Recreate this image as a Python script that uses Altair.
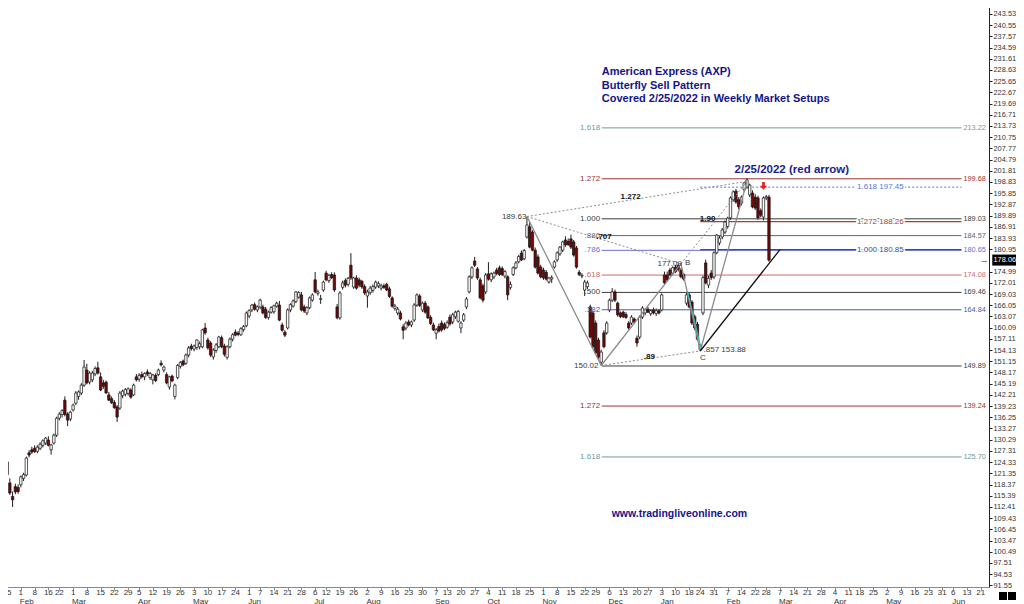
import altair as alt
import pandas as pd

# ---------------- daily candles (trading-day order, from 25 Jan 2021) ----------------
OPENS = [
    124.4, 118.8, 115.2, 117.8, 117.6, 118.3, 120.0, 120.9, 126.8, 127.6,
    128.0, 127.2, 128.0, 128.8, 129.4, 130.2, 127.6, 129.4, 131.5, 136.0,
    137.0, 140.8, 137.1, 135.8, 138.2, 140.0, 141.8, 142.7, 144.8, 148.8,
    145.6, 146.2, 147.8, 149.4, 147.0, 145.4, 145.6, 142.2, 141.2, 140.2,
    139.0, 138.7, 142.0, 142.4, 142.6, 143.5, 142.2, 147.0, 146.4, 147.6,
    147.0, 148.3, 146.8, 146.2, 147.4, 147.6, 150.6, 148.8, 147.6, 144.3,
    147.2, 141.8, 146.8, 149.8, 151.2, 150.6, 152.8, 155.2, 154.4, 154.8,
    155.0, 155.0, 160.0, 156.8, 156.0, 152.3, 154.0, 155.0, 157.4, 155.2,
    152.2, 155.0, 157.0, 158.9, 158.6, 158.2, 159.6, 160.6, 163.2, 164.8,
    166.2, 164.8, 165.6, 165.6, 165.0, 162.8, 164.2, 164.3, 165.8, 166.1,
    160.8, 158.9, 160.0, 164.8, 165.8, 167.0, 168.2, 168.8, 165.6, 164.0,
    165.4, 167.4, 172.8, 169.2, 167.6, 170.1, 174.6, 172.6, 174.2, 174.1,
    165.6, 162.7, 170.8, 172.6, 171.6, 176.7, 170.9, 173.3, 172.8, 172.4,
    171.0, 168.5, 169.4, 170.0, 170.9, 171.2, 170.6, 171.2, 171.6, 170.4,
    168.0, 165.2, 164.0, 164.0, 160.3, 160.0, 161.6, 160.8, 162.1, 166.1,
    168.5, 164.8, 166.6, 165.6, 162.8, 160.8, 158.6, 160.4, 161.3, 160.9,
    160.2, 162.9, 161.6, 163.0, 161.8, 160.0, 162.1, 165.6, 169.6, 173.6,
    177.8, 175.7, 172.8, 171.2, 169.6, 174.4, 172.8, 173.6, 175.4, 176.0,
    175.8, 173.8, 173.6, 170.8, 174.2, 176.0, 177.6, 179.9, 178.4, 184.2,
    186.9, 185.5, 180.7, 178.9, 176.2, 175.4, 174.8, 172.2, 173.0, 176.2,
    178.1, 179.7, 180.7, 183.4, 183.0, 183.7, 182.9, 181.3, 174.8, 173.8,
    170.1, 171.0, 165.6, 164.0, 161.3, 156.8, 150.9, 158.7, 158.7, 164.8,
    167.4, 169.6, 166.6, 164.0, 164.2, 163.6, 161.3, 161.3, 162.4, 157.3,
    157.6, 162.9, 164.0, 165.0, 163.8, 164.8, 163.8, 164.6, 164.8, 174.1,
    174.1, 175.4, 174.6, 176.2, 176.6, 175.4, 174.2, 166.6, 168.8, 166.9,
    163.0, 161.0, 154.2, 164.0, 177.3, 171.4, 174.6, 173.6, 180.0, 182.6,
    184.2, 185.5, 187.0, 189.3, 194.1, 196.4, 194.1, 193.2, 196.7, 197.5,
    195.4, 195.9, 194.8, 194.6, 191.2, 189.5, 194.6, 194.8,
]
HIGHS = [
    126.2, 120.0, 116.5, 118.6, 118.4, 120.8, 121.5, 125.8, 127.5, 128.4,
    128.8, 128.8, 129.6, 130.4, 131.0, 131.2, 129.2, 131.9, 136.4, 137.6,
    138.4, 141.8, 137.6, 138.0, 139.9, 143.2, 143.4, 145.3, 151.5, 150.5,
    148.5, 148.6, 149.8, 151.0, 148.2, 146.2, 146.0, 143.0, 141.8, 140.8,
    139.5, 143.2, 143.6, 144.0, 144.2, 144.0, 145.2, 147.8, 148.0, 148.4,
    148.2, 149.0, 148.3, 147.8, 147.9, 149.2, 151.4, 150.0, 148.2, 147.3,
    147.6, 145.2, 150.4, 151.2, 151.6, 153.2, 155.2, 155.8, 155.6, 157.0,
    156.4, 159.8, 161.3, 157.4, 156.5, 154.6, 156.0, 157.9, 158.0, 155.8,
    155.4, 157.5, 158.6, 159.6, 159.2, 160.2, 160.8, 164.4, 165.0, 166.4,
    166.8, 166.0, 167.8, 166.2, 165.6, 164.6, 165.8, 166.2, 167.0, 167.2,
    161.4, 159.4, 165.2, 166.6, 167.6, 169.8, 169.8, 169.6, 166.2, 165.8,
    168.4, 169.2, 174.9, 170.2, 168.8, 172.6, 175.2, 174.4, 174.8, 174.8,
    166.4, 169.8, 172.6, 173.2, 173.6, 179.9, 173.6, 174.0, 173.4, 172.8,
    171.6, 170.2, 171.2, 171.6, 172.6, 172.4, 171.8, 171.8, 172.0, 171.0,
    168.4, 166.4, 165.6, 164.6, 161.0, 161.8, 162.2, 162.0, 166.6, 169.2,
    169.0, 167.0, 167.2, 166.0, 163.4, 161.4, 160.0, 161.2, 162.0, 161.5,
    162.0, 163.6, 164.0, 164.6, 164.8, 161.8, 164.0, 168.2, 174.0, 176.4,
    178.9, 176.2, 173.4, 171.8, 174.6, 177.5, 174.8, 175.0, 176.0, 176.6,
    176.4, 175.4, 174.0, 172.4, 176.4, 177.8, 179.4, 180.6, 181.0, 189.63,
    188.2, 186.0, 181.4, 179.6, 176.8, 176.0, 175.4, 173.6, 174.0, 178.0,
    180.4, 181.8, 183.2, 184.4, 183.8, 184.8, 183.4, 181.8, 175.4, 174.6,
    172.8, 172.6, 166.2, 164.6, 162.0, 157.4, 154.2, 159.4, 161.8, 167.8,
    170.6, 170.2, 167.0, 164.4, 164.6, 164.2, 161.8, 163.4, 162.8, 158.0,
    163.4, 165.8, 165.2, 165.6, 165.0, 165.4, 165.2, 165.0, 169.2, 175.0,
    175.0, 176.0, 176.4, 176.8, 177.09, 176.0, 174.6, 169.6, 169.4, 167.4,
    163.6, 161.6, 155.8, 174.0, 178.2, 174.0, 175.4, 180.4, 185.0, 184.6,
    186.6, 188.6, 189.6, 195.0, 196.6, 197.0, 194.8, 195.2, 198.8, 199.9,
    198.4, 196.6, 195.6, 195.2, 191.8, 195.0, 195.4, 195.4,
]
LOWS = [
    120.5, 115.6, 112.4, 115.8, 115.9, 117.6, 119.3, 120.5, 125.6, 126.5,
    126.8, 126.7, 127.5, 128.2, 128.9, 128.5, 126.3, 129.0, 131.0, 135.4,
    136.2, 136.5, 133.9, 135.2, 137.8, 139.5, 140.9, 142.2, 144.3, 145.0,
    145.0, 145.6, 147.2, 147.6, 143.2, 143.8, 142.5, 140.6, 139.8, 138.5,
    135.0, 138.2, 141.3, 141.8, 142.0, 141.2, 141.9, 145.8, 145.7, 146.6,
    146.1, 147.2, 146.2, 145.0, 145.6, 147.2, 149.8, 148.2, 145.0, 143.6,
    145.6, 141.0, 146.4, 149.2, 149.8, 150.2, 152.2, 154.0, 153.8, 154.2,
    154.3, 154.6, 158.2, 154.2, 152.3, 151.6, 153.4, 154.6, 154.6, 152.4,
    151.6, 154.6, 156.4, 157.8, 157.8, 157.9, 159.0, 160.2, 162.6, 164.2,
    164.6, 164.2, 165.0, 163.6, 162.4, 162.2, 163.8, 163.8, 165.4, 161.8,
    159.0, 157.6, 159.6, 164.2, 165.4, 166.6, 167.8, 164.4, 164.0, 163.4,
    165.0, 167.0, 169.2, 168.6, 166.4, 169.6, 172.4, 172.0, 173.0, 169.6,
    162.3, 162.2, 170.2, 170.8, 171.0, 172.8, 170.4, 170.2, 170.8, 170.4,
    168.8, 165.4, 168.8, 169.4, 170.4, 170.6, 170.0, 170.4, 169.8, 168.0,
    165.4, 164.6, 163.4, 162.0, 157.0, 159.4, 160.4, 160.2, 161.6, 165.6,
    165.6, 164.2, 163.8, 162.4, 160.8, 159.2, 157.0, 158.8, 159.0, 159.4,
    159.8, 160.6, 161.0, 162.4, 161.4, 158.6, 161.6, 165.0, 169.2, 173.0,
    176.2, 172.8, 167.6, 166.8, 169.0, 172.6, 172.2, 173.0, 174.0, 173.8,
    173.8, 173.2, 167.4, 170.2, 173.8, 175.6, 177.2, 177.8, 178.0, 183.8,
    181.2, 180.4, 175.8, 174.2, 173.2, 172.8, 172.6, 171.8, 172.0, 175.8,
    177.6, 179.2, 180.2, 181.6, 181.8, 181.0, 179.0, 175.8, 173.8, 173.2,
    168.5, 170.4, 157.2, 154.6, 153.0, 151.8, 150.02, 154.6, 158.2, 164.2,
    166.9, 166.9, 163.0, 162.6, 162.6, 162.4, 159.6, 160.8, 161.2, 155.0,
    157.0, 162.4, 163.4, 164.0, 163.2, 163.6, 163.2, 163.6, 164.4, 171.6,
    172.4, 173.8, 174.0, 174.6, 175.0, 173.2, 172.6, 166.0, 165.2, 160.8,
    159.4, 156.6, 153.88, 163.4, 171.6, 170.6, 172.8, 173.0, 179.6, 182.0,
    183.6, 185.0, 186.4, 188.8, 193.6, 193.0, 191.6, 192.6, 196.2, 197.0,
    194.8, 191.8, 191.4, 188.8, 189.4, 188.6, 194.0, 177.6,
]
CLOSES = [
    121.0, 116.1, 114.3, 116.4, 116.5, 120.4, 121.0, 125.4, 126.2, 127.0,
    127.1, 128.3, 129.1, 130.0, 130.7, 128.8, 128.9, 131.5, 136.0, 137.1,
    138.0, 137.0, 135.5, 137.6, 139.5, 142.7, 143.0, 144.8, 149.6, 145.4,
    148.0, 148.0, 149.2, 148.0, 143.5, 144.5, 142.7, 140.8, 140.1, 138.8,
    136.3, 142.7, 143.2, 143.6, 143.8, 141.6, 144.8, 146.2, 147.4, 147.0,
    147.9, 147.8, 147.9, 147.5, 146.0, 148.8, 150.2, 149.6, 145.4, 147.0,
    145.9, 144.8, 150.0, 150.8, 150.2, 152.8, 154.7, 154.5, 155.2, 156.8,
    155.8, 159.5, 158.7, 154.7, 152.8, 154.1, 155.5, 157.6, 155.0, 153.0,
    155.0, 157.0, 158.2, 158.1, 158.3, 159.8, 160.4, 164.0, 164.6, 166.1,
    165.0, 165.6, 167.4, 164.0, 162.8, 164.2, 165.4, 165.9, 166.6, 162.1,
    159.4, 158.1, 164.8, 166.2, 167.2, 169.6, 169.4, 164.8, 164.5, 165.4,
    168.0, 168.8, 169.6, 169.6, 167.8, 172.2, 172.8, 174.0, 173.4, 170.1,
    162.7, 169.3, 172.0, 171.4, 173.2, 173.3, 173.3, 170.6, 171.4, 170.9,
    169.3, 169.6, 170.6, 171.0, 172.2, 171.8, 171.2, 170.8, 170.1, 168.4,
    165.8, 165.8, 165.0, 162.4, 159.4, 161.3, 160.8, 161.6, 166.1, 168.8,
    166.0, 166.6, 164.2, 162.7, 161.2, 159.5, 159.5, 159.2, 159.5, 159.9,
    161.4, 161.1, 163.5, 164.2, 164.4, 161.3, 163.5, 167.7, 173.6, 176.0,
    176.7, 173.3, 168.0, 167.4, 174.1, 173.0, 174.4, 174.6, 174.5, 174.2,
    174.2, 175.0, 168.8, 171.6, 176.0, 177.3, 179.0, 178.1, 180.6, 187.4,
    181.5, 180.7, 176.2, 174.6, 173.6, 173.3, 173.0, 173.3, 173.4, 177.6,
    180.0, 181.5, 182.9, 182.1, 182.2, 181.5, 179.4, 176.2, 174.2, 174.0,
    172.2, 172.0, 157.6, 155.0, 153.4, 152.3, 153.6, 155.0, 161.3, 167.4,
    169.6, 167.4, 163.5, 163.0, 163.0, 162.8, 160.0, 162.9, 161.6, 156.0,
    162.9, 165.3, 164.8, 164.2, 164.6, 164.0, 164.6, 164.0, 168.8, 172.0,
    172.8, 174.1, 176.0, 175.0, 175.6, 173.6, 173.0, 168.8, 165.6, 161.3,
    160.0, 157.0, 155.5, 173.4, 172.0, 173.2, 173.4, 180.0, 184.7, 183.9,
    186.1, 188.2, 189.2, 194.6, 196.2, 193.5, 192.2, 194.8, 198.6, 199.4,
    198.0, 192.2, 191.9, 189.3, 190.0, 194.6, 194.9, 178.06,
]

# ---------------- calendar (trading days incl. the empty future part) ----------------
HOLIDAYS = ["2021-02-15", "2021-04-02", "2021-05-31", "2021-07-05", "2021-09-06",
            "2021-11-25", "2021-12-24", "2022-01-17", "2022-02-21", "2022-04-15",
            "2022-05-30", "2022-06-20"]
FIRST_DAY, LAST_DAY = "2021-01-25", "2022-06-24"

# ---------------- right-hand price axis ticks ----------------
Y_TICKS = [91.55, 94.53, 97.51, 100.49, 103.47, 106.45, 109.43, 112.41, 115.39, 118.37,
           121.35, 124.33, 127.31, 130.29, 133.27, 136.25, 139.23, 142.21, 145.19, 148.17,
           151.15, 154.13, 157.11, 160.09, 163.07, 166.05, 169.03, 172.01, 174.99,
           180.95, 183.93, 186.91, 189.89, 192.87, 195.85, 198.83, 201.81, 204.79, 207.77,
           210.75, 213.73, 216.71, 219.69, 222.67, 225.65, 228.63, 231.61, 234.59, 237.57,
           240.55, 243.53, 246.51]
LAST_PRICE = 178.06

# ---------------- Fibonacci levels ----------------
FIB_LEVELS = [213.22, 199.68, 189.03, 184.57, 180.65, 174.08, 169.46, 164.84, 149.89, 139.24, 125.70]
FIB_RATIOS = ["1.618", "1.272", "1.000", ".886", ".786", ".618", ".500", ".382", "", "1.272", "1.618"]
FIB_KINDS = ["e1618", "e1272", "r1000", "r886", "r786", "r618", "r500", "r382", "base", "e1272", "e1618"]
FIB_FROM, FIB_TO = 216.2, 347.0
FIB_LEFT_LABEL, FIB_RIGHT_LABEL = 215.6, 347.7

PROJ_LEVELS = [197.45, 188.26, 180.85]
PROJ_RATIOS = ["1.618", "1.272", "1.000"]
PROJ_KINDS = ["p1618", "p1272", "p1000"]
PROJ_FROM = 252.0
PROJ_LABEL_END = 326.0

KIND_DOMAIN = ["e1618", "e1272", "r1000", "r886", "r786", "r618", "r500", "r382", "base",
               "p1618", "p1272", "p1000"]
KIND_COLORS = ["#6f9c9c", "#9c3434", "#3c3c3c", "#666666", "#6d6dd2", "#cc6a6a", "#3c3c3c",
               "#4b5bb0", "#3c3c3c", "#5577d8", "#b03a3a", "#2f4fae"]

# ---------------- harmonic pattern points ----------------
PT_NAMES = ["X", "A", "B", "C", "D", "E", "Q1", "Q2"]
PT_IDX = [189, 216, 245, 252, 269, 281, 247.5, 252.2]
PT_PRICE = [189.63, 150.02, 177.09, 153.88, 199.0, 180.85, 169.3, 154.9]
SOLID_LEGS = [("X", "A"), ("A", "B"), ("B", "C"), ("C", "D")]
DOTTED_LEGS = [("X", "B"), ("X", "D"), ("A", "C"), ("B", "D")]
BLACK_LEGS = [("C", "E")]
CYAN_LEGS = [("Q1", "Q2")]

# ---------------- annotations ----------------
TITLE_LINES = ["American Express (AXP)", "Butterfly Sell Pattern", "Covered 2/25/2022 in Weekly Market Setups"]
TITLE_IDX = 216.2
TITLE_PRICE = [228.08, 224.36, 220.9]
DATE_NOTE, DATE_NOTE_IDX, DATE_NOTE_PRICE = "2/25/2022 (red arrow)", 285.3, 202.0
SITE, SITE_IDX, SITE_PRICE = "www.tradingliveonline.com", 219.8, 110.53
ARROW_IDX, ARROW_PRICE = 275, 197.8

VAL_TEXT = ["189.63", "150.02", "177.09", "B", ".857 153.88", "C"]
VAL_IDX = [188.8, 215.0, 240.9, 247.4, 253.2, 253.0]
VAL_PRICE = [189.6, 149.89, 177.0, 177.3, 154.2, 152.0]
VAL_ALIGN = ["right", "right", "center", "center", "left", "center"]

RATIO_TEXT = ["1.272", ".707", ".89", "1.90"]
RATIO_IDX = [226.7, 217.0, 233.5, 254.7]
RATIO_PRICE = [194.84, 184.2, 152.28, 188.99]

# =====================================================================
FONT = "Liberation Sans"
PX_PER_DAY = 2.7786
W, H = 989, 587
X_SCALE = alt.Scale(domain=[-0.76, -0.76 + W / PX_PER_DAY], nice=False, zero=False)
Y_SCALE = alt.Scale(domain=[91.11, 247.23], nice=False, zero=False)
KIND_SCALE = alt.Scale(domain=KIND_DOMAIN, range=KIND_COLORS)

days = pd.bdate_range(FIRST_DAY, LAST_DAY)
days = days[~days.isin(pd.to_datetime(HOLIDAYS))]
cal = pd.DataFrame({"date": days})
cal["i"] = range(len(cal))
iso = cal["date"].dt.isocalendar()
cal["wk"] = iso["year"].astype(str) + "-" + iso["week"].astype(str)
ticks = cal.groupby("wk", sort=False).first().reset_index()
ticks["day"] = ticks["date"].dt.day.astype(str)
ticks["mon"] = ticks["date"].dt.strftime("%b")
months = ticks[ticks["mon"] != ticks["mon"].shift()].iloc[1:]
ticks_df = ticks[["i", "day"]].copy()
months_df = months[["i", "mon"]].copy()

X_AXIS = alt.Axis(values=ticks_df["i"].tolist(), labels=False, tickSize=3, domainColor="#8a8a8a",
                  tickColor="#8a8a8a", grid=False, title=None)
Y_AXIS = alt.Axis(orient="right", values=Y_TICKS, format=".2f", title=None, grid=False,
                  labelFont=FONT, labelFontSize=7.4, labelColor="#333333",
                  tickSize=3, tickColor="#222222", domainColor="#222222",
                  labelPadding=1, labelOverlap=False, labelFlush=False)


def X(field):
    return alt.X(f"{field}:Q", scale=X_SCALE, axis=X_AXIS)


def Y(field):
    return alt.Y(f"{field}:Q", scale=Y_SCALE, axis=Y_AXIS)


candles = pd.DataFrame({"i": range(len(OPENS)), "open": OPENS, "high": HIGHS,
                        "low": LOWS, "close": CLOSES})
candles["dir"] = ["up" if c >= o else "down" for o, c in zip(OPENS, CLOSES)]

wicks = alt.Chart(candles).mark_rule(color="#1e1e1e", strokeWidth=1).encode(
    x=X("i"), y=Y("low"), y2="high:Q")
bodies = alt.Chart(candles).mark_bar(width=2.4, stroke="#111111", strokeWidth=0.7).encode(
    x=X("i"), y=Y("open"), y2="close:Q",
    fill=alt.Fill("dir:N", scale=alt.Scale(domain=["up", "down"], range=["#ffffff", "#720808"]),
                  legend=None),
)

fib = pd.DataFrame({"level": FIB_LEVELS, "ratio": FIB_RATIOS, "kind": FIB_KINDS})
fib["x1"], fib["x2"] = FIB_FROM, FIB_TO
fib["xl"], fib["xr"] = FIB_LEFT_LABEL, FIB_RIGHT_LABEL
fib_lines = alt.Chart(fib).mark_rule(strokeWidth=1).encode(
    x=X("x1"), x2="x2:Q", y=Y("level"),
    color=alt.Color("kind:N", scale=KIND_SCALE, legend=None))
fib_left = alt.Chart(fib).mark_text(align="right", baseline="middle", font=FONT, fontSize=8).encode(
    x=X("xl"), y=Y("level"), text="ratio:N",
    color=alt.Color("kind:N", scale=KIND_SCALE, legend=None))
fib_right = alt.Chart(fib).mark_text(align="left", baseline="middle", font=FONT, fontSize=7.3).encode(
    x=X("xr"), y=Y("level"), text=alt.Text("level:Q", format=".2f"),
    color=alt.Color("kind:N", scale=KIND_SCALE, legend=None))

proj = pd.DataFrame({"level": PROJ_LEVELS, "kind": PROJ_KINDS})
proj["label"] = [f"{r} {v:.2f}" for r, v in zip(PROJ_RATIOS, PROJ_LEVELS)]
proj["x1"], proj["x2"], proj["xt"] = PROJ_FROM, FIB_TO, PROJ_LABEL_END
proj_dotted = alt.Chart(proj[proj["kind"] == "p1618"]).mark_rule(strokeWidth=1, strokeDash=[2, 2]).encode(
    x=X("x1"), x2="x2:Q", y=Y("level"),
    color=alt.Color("kind:N", scale=KIND_SCALE, legend=None))
proj_solid = alt.Chart(proj[proj["kind"] != "p1618"]).mark_rule(strokeWidth=1.2).encode(
    x=X("x1"), x2="x2:Q", y=Y("level"),
    color=alt.Color("kind:N", scale=KIND_SCALE, legend=None))
proj_halo = alt.Chart(proj).mark_text(align="right", baseline="middle", font=FONT, fontSize=8,
                                      stroke="#ffffff", strokeWidth=3, color="#ffffff").encode(
    x=X("xt"), y=Y("level"), text="label:N")
proj_text = alt.Chart(proj).mark_text(align="right", baseline="middle", font=FONT, fontSize=8).encode(
    x=X("xt"), y=Y("level"), text="label:N",
    color=alt.Color("kind:N", scale=KIND_SCALE, legend=None))

pts = dict(zip(PT_NAMES, zip(PT_IDX, PT_PRICE)))


def legs(pairs):
    return pd.DataFrame({"x1": [pts[a][0] for a, b in pairs], "y1": [pts[a][1] for a, b in pairs],
                         "x2": [pts[b][0] for a, b in pairs], "y2": [pts[b][1] for a, b in pairs]})


def leg_layer(pairs, **mk):
    return alt.Chart(legs(pairs)).mark_rule(**mk).encode(x=X("x1"), y=Y("y1"), x2="x2:Q", y2="y2:Q")


solid = leg_layer(SOLID_LEGS, color="#8c8c8c", strokeWidth=1.3)
dotted = leg_layer(DOTTED_LEGS, color="#8c8c8c", strokeWidth=1, strokeDash=[2, 2])
black = leg_layer(BLACK_LEGS, color="#111111", strokeWidth=1.3)
cyan = leg_layer(CYAN_LEGS, color="#3fb8c0", strokeWidth=1.2)

title_df = pd.DataFrame({"t": TITLE_LINES, "i": TITLE_IDX, "p": TITLE_PRICE})
title = alt.Chart(title_df).mark_text(align="left", baseline="middle", font=FONT, fontSize=11,
                                      fontWeight="bold", color="#14148a").encode(
    x=X("i"), y=Y("p"), text="t:N")
note = alt.Chart(pd.DataFrame({"t": [DATE_NOTE], "i": [DATE_NOTE_IDX], "p": [DATE_NOTE_PRICE]})).mark_text(
    align="center", baseline="middle", font=FONT, fontSize=11.5, fontWeight="bold", color="#1c1c8e").encode(
    x=X("i"), y=Y("p"), text="t:N")
site = alt.Chart(pd.DataFrame({"t": [SITE], "i": [SITE_IDX], "p": [SITE_PRICE]})).mark_text(
    align="left", baseline="middle", font=FONT, fontSize=10.5, fontWeight="bold", color="#14148a").encode(
    x=X("i"), y=Y("p"), text="t:N")

val_df = pd.DataFrame({"t": VAL_TEXT, "i": VAL_IDX, "p": VAL_PRICE, "a": VAL_ALIGN})
val_layers = [
    alt.Chart(val_df[val_df["a"] == a]).mark_text(align=a, baseline="middle", font=FONT, fontSize=8,
                                                  color="#3a3a3a").encode(x=X("i"), y=Y("p"), text="t:N")
    for a in ["left", "center", "right"]
]
ratio_df = pd.DataFrame({"t": RATIO_TEXT, "i": RATIO_IDX, "p": RATIO_PRICE})
ratios = alt.Chart(ratio_df).mark_text(align="center", baseline="middle", font=FONT, fontSize=8,
                                       fontWeight="bold", color="#111111").encode(
    x=X("i"), y=Y("p"), text="t:N")

arrow = alt.Chart(pd.DataFrame({"i": [ARROW_IDX], "p": [ARROW_PRICE]})).mark_point(
    shape="M-0.35,-1H0.35V0H0.95L0,1L-0.95,0H-0.35Z", filled=True, size=60, color="#e32222", opacity=1).encode(
    x=X("i"), y=Y("p"))

last_df = pd.DataFrame({"p": [LAST_PRICE]})
last_box = alt.Chart(last_df).mark_point(shape="M-1,-0.45H1V0.45H-1Z", filled=True, size=600,
                                         color="#000000", opacity=1).encode(
    x=alt.value(W + 15.5), y=Y("p"))
last_txt = alt.Chart(last_df).mark_text(align="left", baseline="middle", font=FONT, fontSize=7.4,
                                        color="#ffffff").encode(
    x=alt.value(W + 4.5), y=Y("p"), text=alt.Text("p:Q", format=".2f"))
last_ptr = alt.Chart(last_df).mark_text(align="center", baseline="middle", font=FONT, fontSize=9,
                                        color="#444444").encode(
    x=alt.value(W - 5), y=Y("p"), text=alt.value("→"))

day_lbl = alt.Chart(ticks_df).mark_text(align="center", baseline="top", font=FONT, fontSize=8,
                                        color="#333333").encode(
    x=X("i"), y=alt.value(H + 1.5), text="day:N")
mon_lbl = alt.Chart(months_df).mark_text(align="left", baseline="top", font=FONT, fontSize=8, dx=-1,
                                         color="#333333").encode(
    x=X("i"), y=alt.value(H + 10.5), text="mon:N")

corner_df = pd.DataFrame({"k": [0]})
corner1 = alt.Chart(corner_df).mark_square(size=64, color="#000000", opacity=1).encode(
    x=alt.value(1003), y=alt.value(596))
corner2 = alt.Chart(corner_df).mark_square(size=64, color="#000000", opacity=1).encode(
    x=alt.value(1012), y=alt.value(596))

chart = alt.layer(
    wicks, fib_lines, proj_dotted, proj_solid, bodies,
    solid, dotted, black, cyan,
    fib_left, fib_right, proj_halo, proj_text,
    title, note, site, *val_layers, ratios, arrow,
    last_box, last_txt, last_ptr, day_lbl, mon_lbl, corner1, corner2,
).properties(
    width=W, height=H,
    padding={"left": -8, "top": -8, "right": 1008 - W + 8, "bottom": 17},
    autosize=alt.AutoSizeParams(type="none"),
    background="white",
).configure_view(strokeWidth=0)

chart.save("out.html", embed_options={"renderer": "svg", "actions": False})
